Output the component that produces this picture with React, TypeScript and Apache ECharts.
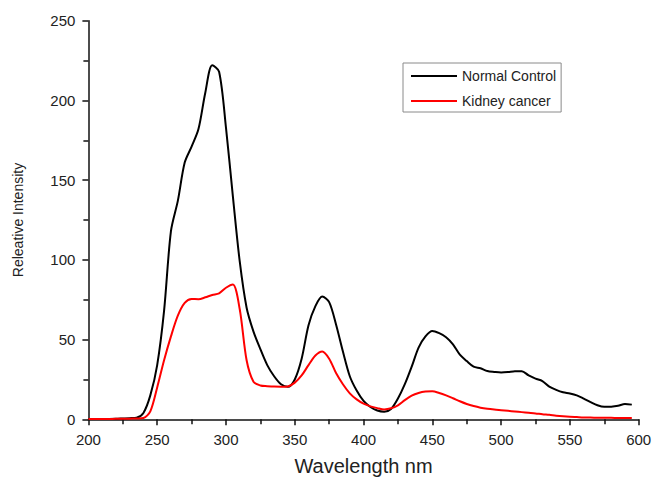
import React, { useEffect, useRef } from "react";
import * as echarts from "echarts";

// Emission wavelengths (nm), sampled every 5 nm
const wavelengths: number[] = [
  200, 205, 210, 215, 220, 225, 230, 235, 240, 245,
  250, 255, 260, 265, 270, 275, 280, 285, 290, 295,
  300, 305, 310, 315, 320, 325, 330, 335, 340, 345,
  350, 355, 360, 365, 370, 375, 380, 385, 390, 395,
  400, 405, 410, 415, 420, 425, 430, 435, 440, 445,
  450, 455, 460, 465, 470, 475, 480, 485, 490, 495,
  500, 505, 510, 515, 520, 525, 530, 535, 540, 545,
  550, 555, 560, 565, 570, 575, 580, 585, 590, 595,
];

// Relative intensity, Normal Control
const normalControl: number[] = [
  0.2, 0.2, 0.2, 0.2, 0.3, 0.5, 0.7, 1.0, 4.0, 15,
  34, 68, 118, 137, 161, 171, 182, 205, 222, 218,
  183, 140, 99, 70, 55, 44, 34, 27, 22, 20.4,
  25, 38, 59, 71, 77, 73.5, 59.5, 42.5, 27, 18,
  11.5, 7.7, 5.5, 4.8, 6.5, 13, 22, 33, 45, 52,
  55.4, 54, 51.5, 47, 40.5, 36.5, 33, 32, 30.3, 29.7,
  29.3, 29.6, 30.2, 30.2, 27.5, 25.5, 24, 20.5, 18.5, 17,
  16.2, 15, 13, 10.8, 8.8, 7.8, 7.9, 8.5, 9.6, 9.2,
];

// Relative intensity, Kidney cancer
const kidneyCancer: number[] = [
  0.2, 0.2, 0.2, 0.2, 0.3, 0.3, 0.4, 0.5, 0.8, 5,
  20, 37, 52, 65, 73, 75.5, 75.3, 76.5, 78, 79,
  82.5, 84.5, 69, 37, 23.5, 21.2, 20.8, 20.5, 20.4, 20.6,
  23, 27.5, 34, 40, 42.5, 38, 29, 22, 16.3, 12.5,
  9.8, 8.1, 7, 6.2, 6.9, 8.8, 12, 14.8, 16.5, 17.4,
  17.6, 16.5, 15, 13.2, 11.3, 9.6, 8.3, 7.3, 6.6, 6.1,
  5.7, 5.3, 4.9, 4.5, 4.1, 3.7, 3.2, 2.8, 2.3, 1.9,
  1.6, 1.4, 1.2, 1.1, 1.0, 0.9, 0.9, 0.8, 0.8, 0.8,
];

const seriesNames: string[] = ["Normal Control", "Kidney cancer"];

const FONT = "'Liberation Sans', Arial, sans-serif";

export default function App() {
  const ref = useRef<HTMLDivElement>(null);

  useEffect(() => {
    if (!ref.current) return;
    const chart = echarts.init(ref.current, undefined, { renderer: "svg" });

    const pairs = (ys: number[]) => wavelengths.map((x, i) => [x, ys[i]]);

    const axisCommon = {
      axisLine: { show: true, onZero: false, lineStyle: { color: "#111", width: 1.5 } },
      axisTick: { show: true, inside: false, length: 6, lineStyle: { color: "#111", width: 1.5 } },
      minorTick: { show: true, splitNumber: 2, length: 5, lineStyle: { color: "#111", width: 1.5 } },
      splitLine: { show: false },
      minorSplitLine: { show: false },
    };

    chart.setOption({
      animation: false,
      backgroundColor: "#ffffff",
      textStyle: { fontFamily: FONT },
      grid: {
        left: 88.4,
        right: 15.3,
        top: 20.7,
        bottom: 59.7,
        containLabel: false,
        outerBoundsMode: "none",
      },
      legend: {
        data: seriesNames,
        orient: "vertical",
        left: 403,
        top: 63,
        padding: [6, 5, 4, 8],
        icon: "rect",
        itemWidth: 46,
        itemHeight: 2,
        itemGap: 11,
        borderColor: "#8a8a8a",
        borderWidth: 1,
        textStyle: { fontSize: 14, color: "#222", fontFamily: FONT },
      },
      xAxis: {
        type: "value",
        min: 200,
        max: 600,
        interval: 50,
        name: "Wavelength nm",
        nameLocation: "middle",
        nameGap: 37,
        nameTextStyle: { fontSize: 20, color: "#222", fontFamily: FONT },
        axisLabel: { fontSize: 15, color: "#222", margin: 13, fontFamily: FONT },
        ...axisCommon,
      },
      yAxis: {
        type: "value",
        min: 0,
        max: 250,
        interval: 50,
        name: "Releative Intensity",
        nameLocation: "middle",
        nameGap: 63,
        nameRotate: 90,
        nameTextStyle: { fontSize: 14, color: "#222", fontFamily: FONT },
        axisLabel: { fontSize: 15, color: "#222", margin: 13, fontFamily: FONT },
        ...axisCommon,
      },
      series: [
        {
          name: seriesNames[0],
          type: "line",
          data: pairs(normalControl),
          symbol: "none",
          smooth: 0.3,
          lineStyle: { color: "#000000", width: 2 },
          itemStyle: { color: "#000000" },
        },
        {
          name: seriesNames[1],
          type: "line",
          data: pairs(kidneyCancer),
          symbol: "none",
          smooth: 0.3,
          lineStyle: { color: "#ff0000", width: 2 },
          itemStyle: { color: "#ff0000" },
        },
      ],
    });

    return () => chart.dispose();
  }, []);

  return (
    <div
      ref={ref}
      style={{ position: "fixed", left: 0, top: 0, width: 654, height: 479, background: "#fff" }}
    />
  );
}
